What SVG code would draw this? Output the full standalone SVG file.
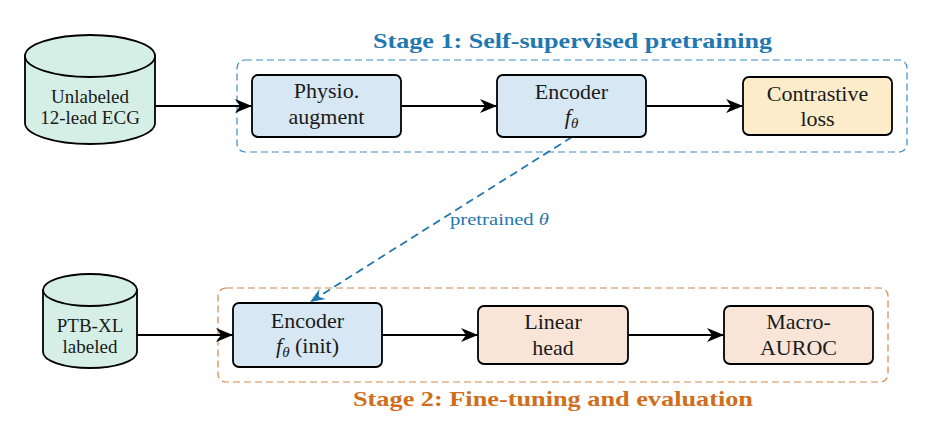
<svg xmlns="http://www.w3.org/2000/svg" width="932" height="442" viewBox="0 0 932 442">
<style>
.box{stroke:#000;stroke-width:1.8}
.enc{fill:#d7e7f3}
.loss{fill:#fdecc9}
.ft{fill:#f8e5d8}
.cyl{fill:#d6efe6;stroke:#000;stroke-width:1.8}
.t{font-family:"Liberation Serif",serif;font-size:22px;fill:#1a1a1a;text-anchor:middle}
.ct{font-family:"Liberation Serif",serif;font-size:19px;fill:#1a1a1a;text-anchor:middle}
.ttl{font-family:"Liberation Serif",serif;font-size:21px;font-weight:bold;text-anchor:middle}
.arr{stroke:#000;stroke-width:1.8;fill:none;marker-end:url(#ah)}
.frame{fill:none;stroke-width:1.2;stroke-dasharray:7 4}
</style>
<defs>
<marker id="ah" markerUnits="userSpaceOnUse" viewBox="-18 -8 19 16" refX="0" refY="0" markerWidth="19" markerHeight="16" orient="auto">
<path d="M0,0 L-17,-7 L-12,0 L-17,7 Z" fill="#000"/>
</marker>
<marker id="bh" markerUnits="userSpaceOnUse" viewBox="-16 -7 17 14" refX="0" refY="0" markerWidth="17" markerHeight="14" orient="auto">
<path d="M0,0 L-15,-6 L-10,0 L-15,6 Z" fill="#1f78b0"/>
</marker>
</defs>
<rect width="932" height="442" fill="#fff"/>

<g id="stage1-frame">
<rect class="frame" x="237" y="60" width="670" height="92" rx="8" stroke="#3a8cc2"/>
<text class="ttl" x="572.5" y="48" fill="#1f78b0" textLength="399" lengthAdjust="spacingAndGlyphs">Stage 1: Self-supervised pretraining</text>
</g>
<g id="stage2-frame">
<rect class="frame" x="218" y="288" width="670" height="94" rx="8" stroke="#d2874a"/>
<text class="ttl" x="553" y="406" fill="#cf6e1d" textLength="400" lengthAdjust="spacingAndGlyphs">Stage 2: Fine-tuning and evaluation</text>
</g>

<g id="connectors">
<line class="arr" x1="155" y1="106" x2="252" y2="106"/>
<line class="arr" x1="401" y1="106" x2="497" y2="106"/>
<line class="arr" x1="646" y1="106" x2="743" y2="106"/>
<line class="arr" x1="137" y1="335" x2="233" y2="335"/>
<line class="arr" x1="382" y1="335" x2="478" y2="335"/>
<line class="arr" x1="628" y1="335" x2="724" y2="335"/>
<line x1="572" y1="137" x2="310" y2="302" stroke="#1f78b0" stroke-width="1.8" stroke-dasharray="8 5" marker-end="url(#bh)"/>
<text x="450" y="225" font-family="Liberation Serif,serif" font-size="16" fill="#1f78b0" textLength="99" lengthAdjust="spacingAndGlyphs">pretrained <tspan font-style="italic">θ</tspan></text>
</g>

<g id="unlabeled-ecg">
<path class="cyl" d="M25,56 V123 A65,21 0 0 0 155,123 V56 Z"/>
<ellipse class="cyl" cx="90" cy="56" rx="65" ry="21"/>
<text class="ct" x="90" y="103">Unlabeled</text>
<text class="ct" x="90" y="124">12-lead ECG</text>
</g>

<g id="physio-augment">
<rect class="box enc" x="252" y="75" width="149" height="62" rx="6"/>
<text class="t" x="326.5" y="98">Physio.</text>
<text class="t" x="326.5" y="124">augment</text>
</g>

<g id="encoder">
<rect class="box enc" x="497" y="75" width="149" height="62" rx="6"/>
<text class="t" x="571.5" y="99">Encoder</text>
<text class="t" x="571.5" y="124"><tspan font-style="italic">f</tspan><tspan font-style="italic" font-size="15" dy="4">θ</tspan></text>
</g>

<g id="contrastive-loss">
<rect class="box loss" x="743" y="77" width="149" height="58" rx="6"/>
<text class="t" x="817.5" y="101">Contrastive</text>
<text class="t" x="817.5" y="126">loss</text>
</g>

<g id="ptbxl">
<path class="cyl" d="M43,290 V352 A47,16 0 0 0 137,352 V290 Z"/>
<ellipse class="cyl" cx="90" cy="290" rx="47" ry="16"/>
<text class="ct" x="90" y="332" font-size="18">PTB-XL</text>
<text class="ct" x="90" y="353" font-size="18">labeled</text>
</g>

<g id="encoder-init">
<rect class="box enc" x="233" y="303" width="149" height="64" rx="6"/>
<text class="t" x="307.5" y="328">Encoder</text>
<text class="t" x="307.5" y="353"><tspan font-style="italic">f</tspan><tspan font-style="italic" font-size="15" dy="4">θ</tspan><tspan dy="-4"> (init)</tspan></text>
</g>

<g id="linear-head">
<rect class="box ft" x="478" y="306" width="150" height="58" rx="6"/>
<text class="t" x="553" y="329">Linear</text>
<text class="t" x="553" y="355">head</text>
</g>

<g id="macro-auroc">
<rect class="box ft" x="724" y="306" width="149" height="58" rx="6"/>
<text class="t" x="798.5" y="329">Macro-</text>
<text class="t" x="798.5" y="355">AUROC</text>
</g>
</svg>
